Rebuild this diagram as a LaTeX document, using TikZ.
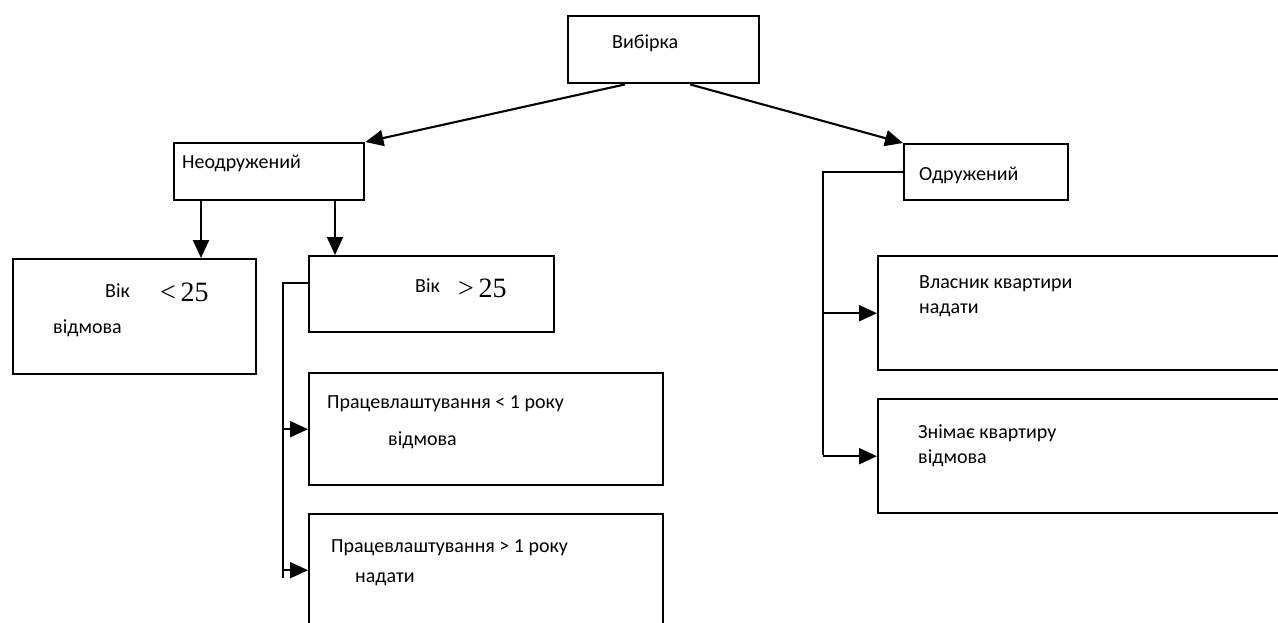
\documentclass[tikz,border=0pt]{standalone}
\usepackage{fontspec}
\setmainfont{Carlito}
\newfontfamily\timesfont{Liberation Serif}
\usetikzlibrary{arrows.meta,calc}

\begin{document}
\begin{tikzpicture}[x=1pt,y=-1pt,
  box/.style={draw=black,line width=2.4pt,rectangle,anchor=north west,inner sep=0pt},
  lbl/.style={anchor=base west,inner sep=0pt,font=\fontsize{20}{20}\selectfont},
  cmp/.style={anchor=base west,inner sep=0pt,font=\timesfont\fontsize{28}{28}\selectfont},
  link/.style={line width=2.1pt,line join=miter},
  arr/.style={link,-{Triangle[length=18pt,width=16pt]}}]
\useasboundingbox (0,0) rectangle (1278,622);
\clip (0,0) rectangle (1278,622);
\fill[white] (0,0) rectangle (1278,622);

% boxes
\node[box,minimum width=191pt,minimum height=67pt] (vib) at (567,15) {};
\node[box,minimum width=190pt,minimum height=57pt] (neo) at (173,142) {};
\node[box,minimum width=164pt,minimum height=56pt] (odr) at (903,143) {};
\node[box,minimum width=243pt,minimum height=115pt] (age1) at (12,258) {};
\node[box,minimum width=245pt,minimum height=76pt] (age2) at (308,255) {};
\node[box,minimum width=354pt,minimum height=112pt] (emp1) at (308,372) {};
\node[box,minimum width=354pt,minimum height=112pt] (emp2) at (308,513) {};
\node[box,minimum width=430pt,minimum height=114pt] (own) at (877,255) {};
\node[box,minimum width=430pt,minimum height=114pt] (rent) at (877,398) {};

% labels
\node[lbl] (tvib) at (612,48) {Вибірка};
\node[lbl] (tneo) at (182,168) {Неодружений};
\node[lbl] (todr) at (919,180) {Одружений};
\node[lbl] (tage1) at (105,297) {Вік};
\node[cmp] (cage1) at (160,301) {<\,25};
\node[lbl] (rage1) at (53,333) {відмова};
\node[lbl] (tage2) at (415,292) {Вік};
\node[cmp] (cage2) at (458,297) {>\,25};
\node[lbl] (temp1) at (327,408) {Працевлаштування < 1 року};
\node[lbl] (remp1) at (388,445) {відмова};
\node[lbl] (temp2) at (331,552) {Працевлаштування > 1 року};
\node[lbl] (remp2) at (355,582) {надати};
\node[lbl] (town) at (919,288) {Власник квартири};
\node[lbl] (rown) at (919,313) {надати};
\node[lbl] (trent) at (918,438) {Знімає квартиру};
\node[lbl] (rrent) at (918,463) {відмова};

% connectors
\draw[arr] ($(vib.south west)+(58,0)$) -- (neo.north east);
\draw[arr] ($(vib.south west)+(123,0)$) -- (odr.north west);
\draw[arr] ($(neo.south west)+(28,0)$) -- ($(age1.north west)+(189,0)$);
\draw[arr] ($(neo.south west)+(162,0)$) -- ($(age2.north west)+(27,0)$);

\coordinate (lbus) at (283,578);
\draw[link] ($(age2.north west)+(0,28)$) -| (lbus);
\draw[arr] (emp1.west -| lbus) -- (emp1.west);
\draw[arr] (emp2.west -| lbus) -- (emp2.west);

\coordinate (rbus) at (823,455);
\draw[link] (odr.west) -| (rbus);
\draw[arr] (own.west -| rbus) -- (own.west);
\draw[arr] (rent.west -| rbus) -- (rent.west);
\end{tikzpicture}
\end{document}
